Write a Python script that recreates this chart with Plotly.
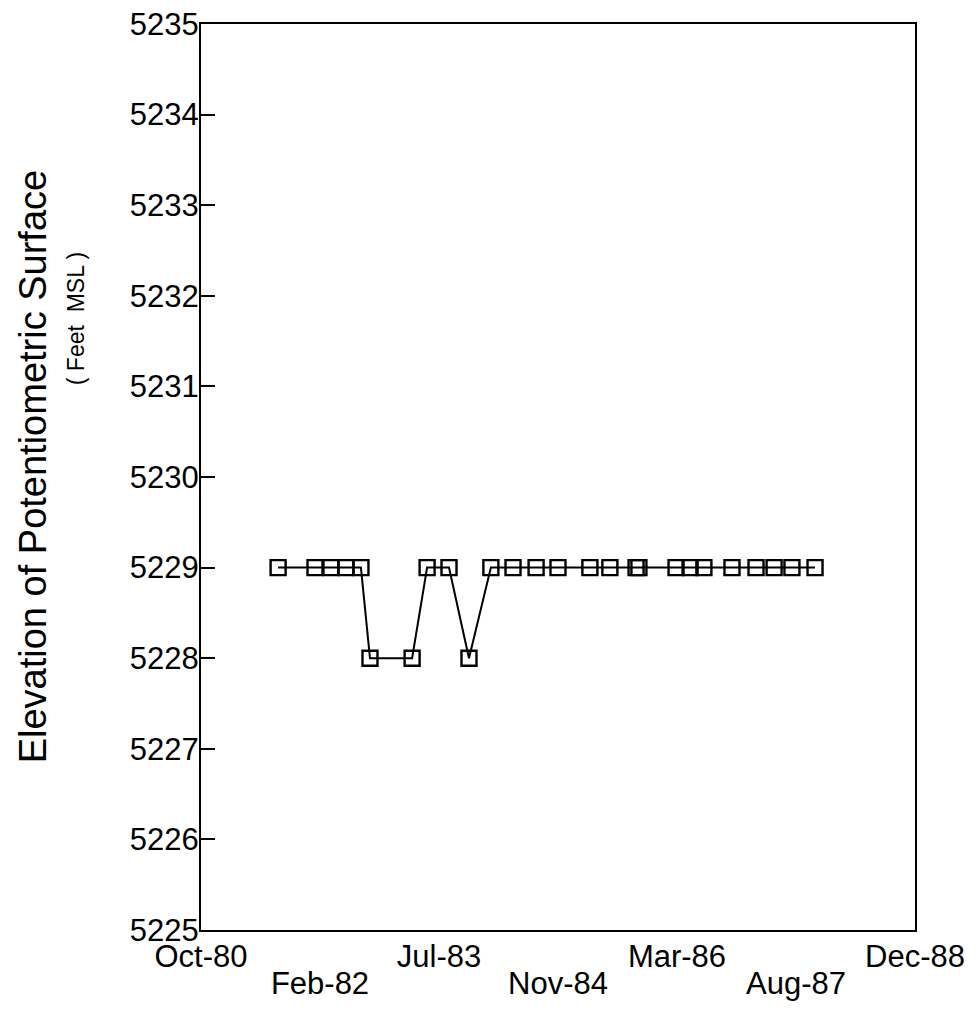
import plotly.graph_objects as go

# Sample dates and elevations (feet MSL)
dates = [
    "1981-08-26", "1982-01-28", "1982-04-05", "1982-06-07", "1982-08-09",
    "1982-09-16", "1983-03-12", "1983-05-14", "1983-08-14", "1983-11-06",
    "1984-02-06", "1984-05-09", "1984-08-14", "1984-11-14", "1985-03-28",
    "1985-06-20", "1985-10-08", "1985-10-20", "1986-03-25", "1986-05-23",
    "1986-07-20", "1986-11-15", "1987-02-24", "1987-05-11", "1987-07-25",
    "1987-10-30",
]
elevation = [
    5229, 5229, 5229, 5229, 5229,
    5228, 5228, 5229, 5229, 5228,
    5229, 5229, 5229, 5229, 5229,
    5229, 5229, 5229, 5229, 5229,
    5229, 5229, 5229, 5229, 5229,
    5229,
]

tick_dates_upper = ["1980-10-06", "1983-07-03", "1986-03-29", "1988-12-23"]
tick_labels_upper = ["Oct-80", "Jul-83", "Mar-86", "Dec-88"]
tick_dates_lower = ["1982-02-18", "1984-11-14", "1987-08-11"]
tick_labels_lower = ["Feb-82", "Nov-84", "Aug-87"]
y_ticks = list(range(5225, 5236))

x_range = ["1980-10-06", "1988-12-23"]
FONT = "Liberation Sans, Arial, sans-serif"

fig = go.Figure()
fig.add_trace(go.Scatter(
    x=dates, y=elevation, mode="lines+markers",
    line=dict(color="black", width=2),
    marker=dict(symbol="square-open", size=15, color="black",
                line=dict(color="black", width=2.4)),
    showlegend=False,
))
# invisible trace to anchor the second x axis (lower row of labels)
fig.add_trace(go.Scatter(x=x_range, y=[5225, 5225], xaxis="x2",
                         mode="markers", marker=dict(opacity=0),
                         showlegend=False, hoverinfo="skip"))

fig.update_layout(
    width=979, height=1011,
    margin=dict(l=193, r=72, t=16, b=89),
    plot_bgcolor="white", paper_bgcolor="white",
    font=dict(family=FONT, color="black", size=31),
    xaxis=dict(
        type="date", range=x_range, automargin=False,
        tickvals=tick_dates_upper, ticktext=tick_labels_upper,
        showgrid=False, zeroline=False,
        showline=True, linecolor="black", linewidth=2, mirror=True,
        ticks="", tickfont=dict(size=31),
        ticklabelstandoff=-2, ticklabeloverflow="allow",
    ),
    xaxis2=dict(
        type="date", range=x_range, overlaying="x", side="bottom",
        anchor="y", automargin=False,
        tickvals=tick_dates_lower, ticktext=tick_labels_lower,
        showgrid=False, zeroline=False, showline=False,
        ticks="", tickfont=dict(size=31),
        ticklabelstandoff=32, ticklabeloverflow="allow",
    ),
    yaxis=dict(
        range=[5225, 5235], tickvals=y_ticks, automargin=False,
        showgrid=False, zeroline=False,
        showline=True, linecolor="black", linewidth=2, mirror=True,
        ticks="inside", ticklen=14, tickwidth=2, tickcolor="black",
        tickfont=dict(size=31),
        ticklabelstandoff=-6, ticklabeloverflow="allow",
    ),
    annotations=[
        dict(text="Elevation of Potentiometric Surface", textangle=-90,
             xref="paper", yref="paper", x=-0.235, y=0.512,
             xanchor="center", yanchor="middle", showarrow=False,
             font=dict(size=38, family=FONT)),
        dict(text="( Feet  MSL )", textangle=-90,
             xref="paper", yref="paper", x=-0.174, y=0.675,
             xanchor="center", yanchor="middle", showarrow=False,
             font=dict(size=23, family=FONT)),
    ],
)

fig.write_html("out.html")
